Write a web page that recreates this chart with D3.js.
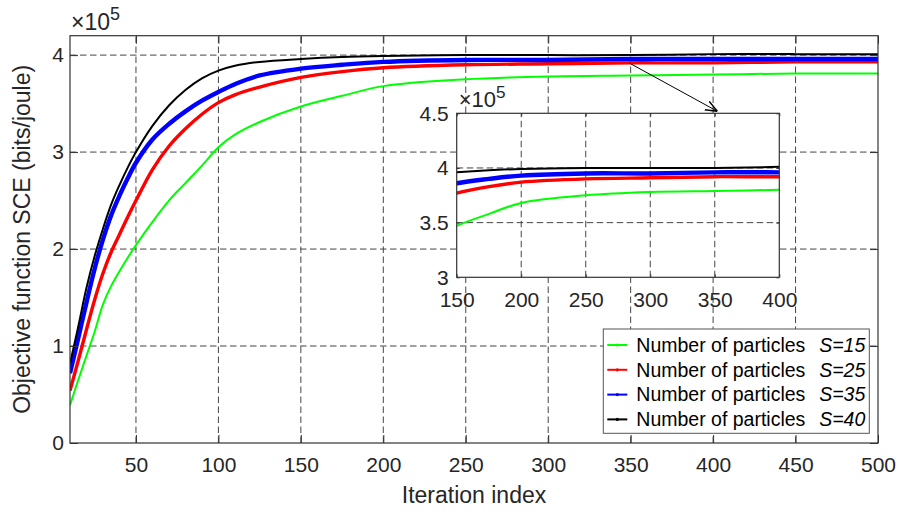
<!DOCTYPE html>
<html>
<head>
<meta charset="utf-8">
<script src="https://cdn.jsdelivr.net/npm/d3@7/dist/d3.min.js"></script>
<style>
  body { margin: 0; background: #fff; }
  svg { font-family: "Liberation Sans", Arial, sans-serif; }
</style>
</head>
<body>
<div id="chart"></div>
<script>
var iters = [10, 15, 20, 25, 30, 35, 40, 45, 50, 60, 70, 80, 90, 100, 110, 125, 150, 175, 200, 250, 300, 350, 400, 450, 500];

// SCE values (bits/joule) for each swarm size
var s15 = [39000, 65000, 90000, 115000, 143000, 162000, 177000, 191000, 204000, 228000, 250000, 268000, 286000, 305000, 318000, 331000, 347000, 358000, 368000, 375000, 378000, 379000, 380000, 381000, 381000];
var s25 = [54000, 85000, 117000, 148000, 175000, 197000, 215000, 233000, 250000, 282000, 306000, 324000, 339000, 351000, 359000, 367000, 377000, 383000, 387000, 390000, 391000, 392000, 392000, 393000, 393000];
var s35 = [72000, 108000, 145000, 180000, 210000, 235000, 255000, 273000, 289000, 313000, 329000, 342000, 353000, 362000, 370000, 379000, 386000, 390000, 393000, 395000, 395000, 396000, 396000, 396000, 396000];
var s40 = [82000, 120000, 160000, 193000, 221000, 246000, 266000, 284000, 300000, 327000, 348000, 364000, 376000, 384000, 389000, 393000, 396000, 398000, 399000, 400000, 400000, 400000, 401000, 401000, 401000];

var seriesNames = ['S=15', 'S=25', 'S=35', 'S=40'];
var seriesColors = ['#00ff00', '#ff0000', '#0000ff', '#000000'];
var seriesWidths = [2, 3.4, 4.4, 2];

var xTicks = [50, 100, 150, 200, 250, 300, 350, 400, 450, 500];
var yTicks = [0, 100000, 200000, 300000, 400000];
var insetXTicks = [150, 200, 250, 300, 350, 400];
var insetYTicks = [300000, 350000, 400000, 450000];

var width = 900, height = 512;
var gridColor = '#454545';
var axisColor = '#333';

var svg = d3.select('#chart').append('svg')
  .attr('width', width)
  .attr('height', height);

var series = [s15, s25, s35, s40].map(function(vals, i) {
  return {
    name: seriesNames[i],
    color: seriesColors[i],
    width: seriesWidths[i],
    points: iters.map(function(it, j) { return [it, vals[j]]; })
  };
});

function drawAxes(g, x, y, opts) {
  var x0 = x.range()[0], x1 = x.range()[1];
  var y0 = y.range()[0], y1 = y.range()[1];

  if (opts.background) {
    g.append('rect')
      .attr('x', x0).attr('y', y1)
      .attr('width', x1 - x0).attr('height', y0 - y1)
      .attr('fill', '#fff');
  }

  // dashed grid
  g.append('g').selectAll('line.gx')
    .data(opts.xTicks.filter(function(d) { return d > x.domain()[0] && d < x.domain()[1]; }))
    .enter().append('line')
    .attr('x1', function(d) { return x(d); })
    .attr('x2', function(d) { return x(d); })
    .attr('y1', y0).attr('y2', y1)
    .attr('stroke', gridColor)
    .attr('stroke-dasharray', '6.5,3.5');

  g.append('g').selectAll('line.gy')
    .data(opts.yTicks.filter(function(d) { return d > y.domain()[0] && d < y.domain()[1]; }))
    .enter().append('line')
    .attr('y1', function(d) { return y(d); })
    .attr('y2', function(d) { return y(d); })
    .attr('x1', x0).attr('x2', x1)
    .attr('stroke', gridColor)
    .attr('stroke-dasharray', '6.5,3.5');

  // curves, clipped to the box
  var clipId = 'clip-' + opts.id;
  g.append('clipPath').attr('id', clipId)
    .append('rect')
    .attr('x', x0).attr('y', y1)
    .attr('width', x1 - x0).attr('height', y0 - y1);

  var line = d3.line()
    .x(function(d) { return x(d[0]); })
    .y(function(d) { return y(d[1]); })
    .curve(d3.curveCatmullRom.alpha(0.5));

  g.append('g').attr('clip-path', 'url(#' + clipId + ')')
    .selectAll('path')
    .data(series)
    .enter().append('path')
    .attr('d', function(d) { return line(d.points); })
    .attr('fill', 'none')
    .attr('stroke', function(d) { return d.color; })
    .attr('stroke-width', function(d) { return d.width; })
    .attr('stroke-linejoin', 'round');

  // axes on all four sides, ticks pointing in
  var fmt = function(d) { return d3.format('~g')(d / 100000); };
  var tl = opts.tickLen;

  g.append('g').attr('transform', 'translate(0,' + y0 + ')')
    .call(d3.axisBottom(x).tickValues(opts.xTicks).tickSizeInner(-tl).tickSizeOuter(0).tickPadding(opts.xPad));
  g.append('g').attr('transform', 'translate(0,' + y1 + ')')
    .call(d3.axisTop(x).tickValues(opts.xTicks).tickSizeInner(-tl).tickSizeOuter(0).tickFormat(''));
  g.append('g').attr('transform', 'translate(' + x0 + ',0)')
    .call(d3.axisLeft(y).tickValues(opts.yTicks).tickSizeInner(-tl).tickSizeOuter(0).tickPadding(opts.yPad).tickFormat(fmt));
  g.append('g').attr('transform', 'translate(' + x1 + ',0)')
    .call(d3.axisRight(y).tickValues(opts.yTicks).tickSizeInner(-tl).tickSizeOuter(0).tickFormat(''));

  g.selectAll('.domain').remove();
  g.selectAll('.tick line').attr('stroke', axisColor);
  g.selectAll('.tick text')
    .attr('fill', '#262626')
    .style('font-size', opts.fontSize + 'px')
    .style('font-family', '"Liberation Sans", Arial, sans-serif');

  g.append('rect')
    .attr('x', x0).attr('y', y1)
    .attr('width', x1 - x0).attr('height', y0 - y1)
    .attr('fill', 'none')
    .attr('stroke', axisColor)
    .attr('stroke-width', 1.2);

  // x10^5 exponent label
  var ex = g.append('text')
    .attr('x', x0 + opts.expDx)
    .attr('y', y1 - opts.expDy)
    .attr('fill', '#262626')
    .style('font-size', opts.expSize + 'px');
  ex.append('tspan').text('\u00d710');
  ex.append('tspan').attr('dy', -opts.expSize * 0.42).style('font-size', (opts.expSize * 0.78) + 'px').text('5');
}

// main axes
var x = d3.scaleLinear().domain([10, 500]).range([70, 878]);
var y = d3.scaleLinear().domain([0, 420000]).range([443, 35.7]);

var mainG = svg.append('g');
drawAxes(mainG, x, y, {
  id: 'main', xTicks: xTicks, yTicks: yTicks, tickLen: 8,
  xPad: 14, yPad: 6, fontSize: 21, expDx: 1, expDy: 6, expSize: 23
});

// axis titles
svg.append('text')
  .attr('x', (70 + 878) / 2)
  .attr('y', 503)
  .attr('text-anchor', 'middle')
  .attr('fill', '#262626')
  .style('font-size', '23px')
  .text('Iteration index');

svg.append('text')
  .attr('transform', 'translate(30,' + ((35.7 + 443) / 2) + ') rotate(-90)')
  .attr('text-anchor', 'middle')
  .attr('fill', '#262626')
  .style('font-size', '23px')
  .text('Objective function SCE (bits/joule)');

// inset zoom
var xi = d3.scaleLinear().domain([150, 400]).range([456.7, 779.3]);
var yi = d3.scaleLinear().domain([300000, 450000]).range([277.3, 113.3]);

// arrow from main curves to the inset
svg.append('defs').append('marker')
  .attr('id', 'arrowhead')
  .attr('viewBox', '0 0 10 10')
  .attr('refX', 10).attr('refY', 5)
  .attr('markerWidth', 12).attr('markerHeight', 12)
  .attr('markerUnits', 'userSpaceOnUse')
  .attr('orient', 'auto')
  .append('path')
  .attr('d', 'M0,1 L10,5 L0,9')
  .attr('fill', 'none')
  .attr('stroke', '#000')
  .attr('stroke-width', 1.2);

svg.append('line')
  .attr('x1', x(349)).attr('y1', y(392000))
  .attr('x2', xi(352)).attr('y2', yi(450000) - 2)
  .attr('stroke', '#000')
  .attr('stroke-width', 1)
  .attr('marker-end', 'url(#arrowhead)');

var insetG = svg.append('g');
drawAxes(insetG, xi, yi, {
  id: 'inset', background: true, xTicks: insetXTicks, yTicks: insetYTicks, tickLen: 3,
  xPad: 15, yPad: 8, fontSize: 21, expDx: 2, expDy: 6, expSize: 22
});

// legend
var lg = svg.append('g').attr('transform', 'translate(603.3,329)');
lg.append('rect')
  .attr('width', 266).attr('height', 104.3)
  .attr('fill', '#fff')
  .attr('stroke', '#555')
  .attr('stroke-width', 1);

var rows = lg.selectAll('g.row')
  .data(series)
  .enter().append('g')
  .attr('transform', function(d, i) { return 'translate(0,' + (16 + i * 24.8) + ')'; });

rows.append('line')
  .attr('x1', 4).attr('x2', 24)
  .attr('stroke', function(d) { return d.color; })
  .attr('stroke-width', 2);
rows.append('circle')
  .attr('cx', 14).attr('r', 1.6)
  .attr('fill', function(d) { return d.color; });

rows.append('text')
  .attr('x', 33).attr('dy', '0.35em')
  .attr('fill', '#000')
  .style('font-size', '19.5px')
  .text('Number of particles');
rows.append('text')
  .attr('x', 262).attr('dy', '0.35em')
  .attr('text-anchor', 'end')
  .attr('fill', '#000')
  .style('font-size', '19.5px')
  .style('font-style', 'italic')
  .text(function(d) { return d.name; });
</script>
</body>
</html>
